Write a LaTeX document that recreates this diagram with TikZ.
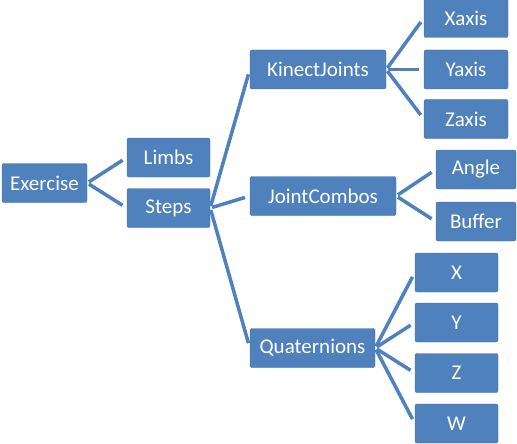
\documentclass[tikz,border=0pt]{standalone}
\usepackage{fontspec}
\setmainfont{Carlito}
\definecolor{smblue}{HTML}{4F81BD}
\begin{document}
\begin{tikzpicture}[x=1pt,y=-1pt,
  box/.style={fill=smblue,draw=smblue!85!black,line width=0.4pt,rounded corners=2pt,text=white,font=\fontsize{21}{23}\selectfont,inner sep=0pt,minimum height=39pt},
  conn/.style={draw=smblue,line width=3.5pt,shorten <=2pt,shorten >=5pt}]
\useasboundingbox (0,0) rectangle (517,444);
\node[box,minimum width=85pt] (ex) at (44.5,183) {Exercise};
\node[box,minimum width=83pt] (limbs) at (168.5,157.5) {Limbs};
\node[box,minimum width=83pt] (steps) at (168.5,208) {Steps};
\node[box,minimum width=136pt] (kj) at (318,69.5) {KinectJoints};
\node[box,minimum width=146pt] (jc) at (323,196) {JointCombos};
\node[box,minimum width=125pt] (q) at (312.5,348) {Quaternions};
\node[box,minimum width=84pt] (xa) at (466,18) {Xaxis};
\node[box,minimum width=84pt] (ya) at (466,69.5) {Yaxis};
\node[box,minimum width=84pt] (za) at (466,119) {Zaxis};
\node[box,minimum width=80pt] (an) at (476,169.5) {Angle};
\node[box,minimum width=80pt] (bu) at (476,221.5) {Buffer};
\node[box,minimum width=83pt] (qx) at (456.5,272.5) {X};
\node[box,minimum width=83pt] (qy) at (456.5,322.5) {Y};
\node[box,minimum width=83pt] (qz) at (456.5,373) {Z};
\node[box,minimum width=83pt] (qw) at (456.5,423.5) {W};
\foreach \a/\b in {ex/limbs,ex/steps,steps/kj,steps/jc,steps/q,kj/xa,kj/ya,kj/za,jc/an,jc/bu,q/qx,q/qy,q/qz,q/qw}
  \draw[conn] (\a.east) -- (\b.west);
\end{tikzpicture}
\end{document}
